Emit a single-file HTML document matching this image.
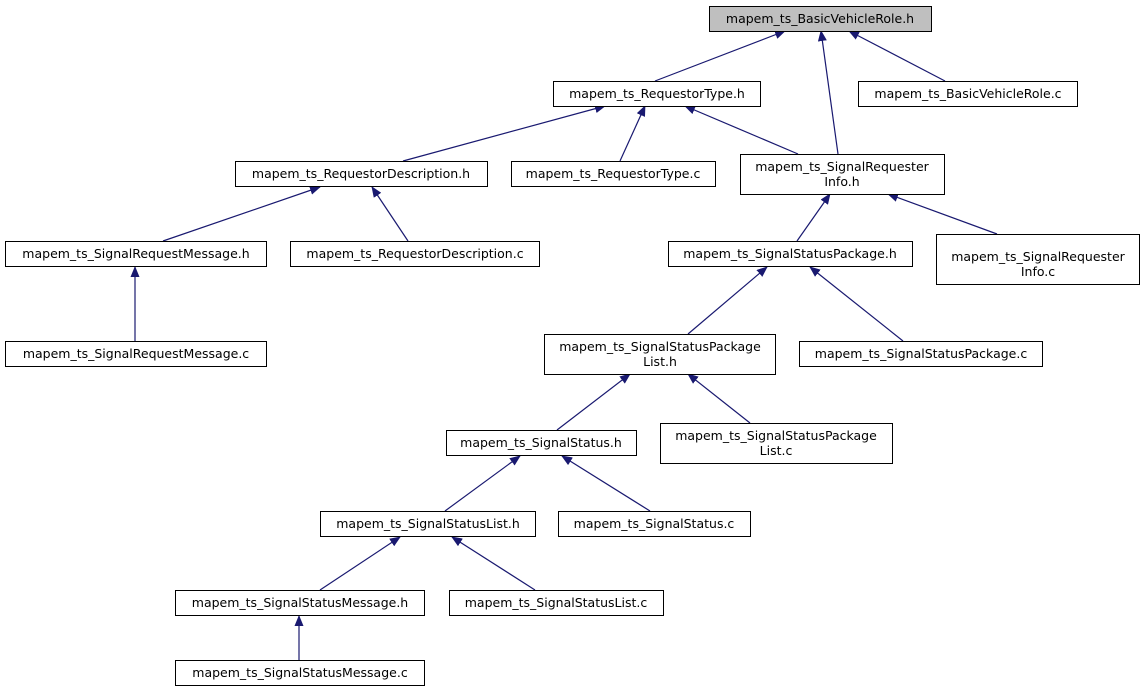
<!DOCTYPE html>
<html><head><meta charset="utf-8"><style>html,body{margin:0;padding:0;background:#fff}svg{display:block}</style></head>
<body>
<svg width="1146" height="693" viewBox="0 0 1146 693" xmlns="http://www.w3.org/2000/svg" font-family="'DejaVu Sans','Liberation Sans',sans-serif" font-size="12.5">
<defs><marker id="a" markerWidth="11" markerHeight="9" refX="10" refY="4.5" orient="auto" markerUnits="userSpaceOnUse"><path d="M0,0 L11,4.5 L0,9 Z" fill="#191970"/></marker></defs>
<g stroke="#191970" stroke-width="1.2" marker-end="url(#a)">
<line x1="655" y1="81" x2="785" y2="31"/>
<line x1="838" y1="154" x2="821" y2="31"/>
<line x1="945" y1="81" x2="849" y2="31"/>
<line x1="403" y1="161" x2="605" y2="106"/>
<line x1="620" y1="161" x2="645" y2="106"/>
<line x1="798" y1="154" x2="685" y2="106"/>
<line x1="163" y1="241" x2="320" y2="187"/>
<line x1="408" y1="241" x2="372" y2="187"/>
<line x1="135" y1="341" x2="135" y2="267"/>
<line x1="797" y1="241" x2="830" y2="194"/>
<line x1="997" y1="234" x2="888" y2="194"/>
<line x1="688" y1="334" x2="767" y2="267"/>
<line x1="903" y1="341" x2="810" y2="267"/>
<line x1="557" y1="430" x2="630" y2="374"/>
<line x1="750" y1="423" x2="688" y2="374"/>
<line x1="445" y1="511" x2="520" y2="456"/>
<line x1="650" y1="511" x2="562" y2="456"/>
<line x1="320" y1="590" x2="400" y2="537"/>
<line x1="535" y1="590" x2="452" y2="537"/>
<line x1="299" y1="660" x2="299" y2="616"/>
</g>
<g stroke="#000" stroke-width="1" fill="#fff">
<rect x="709.5" y="6.5" width="222" height="25" fill="#bfbfbf"/>
<rect x="553.5" y="81.5" width="207" height="25"/>
<rect x="858.5" y="81.5" width="219" height="25"/>
<rect x="235.5" y="161.5" width="252" height="25"/>
<rect x="511.5" y="161.5" width="204" height="25"/>
<rect x="740.5" y="154.5" width="204" height="40"/>
<rect x="5.5" y="241.5" width="261" height="25"/>
<rect x="290.5" y="241.5" width="249" height="25"/>
<rect x="668.5" y="241.5" width="244" height="25"/>
<rect x="936.5" y="234.5" width="203" height="50"/>
<rect x="5.5" y="341.5" width="261" height="25"/>
<rect x="544.5" y="334.5" width="231" height="40"/>
<rect x="799.5" y="341.5" width="243" height="25"/>
<rect x="446.5" y="430.5" width="190" height="25"/>
<rect x="660.5" y="423.5" width="232" height="40"/>
<rect x="320.5" y="511.5" width="215" height="25"/>
<rect x="558.5" y="511.5" width="192" height="25"/>
<rect x="175.5" y="590.5" width="249" height="25"/>
<rect x="449.5" y="590.5" width="214" height="25"/>
<rect x="175.5" y="660.5" width="249" height="25"/>
</g>
<g text-anchor="middle" fill="#000">
<text x="820" y="23">mapem_ts_BasicVehicleRole.h</text>
<text x="657" y="98">mapem_ts_RequestorType.h</text>
<text x="968" y="98">mapem_ts_BasicVehicleRole.c</text>
<text x="361" y="178">mapem_ts_RequestorDescription.h</text>
<text x="613" y="178">mapem_ts_RequestorType.c</text>
<text x="842" y="171">mapem_ts_SignalRequester</text>
<text x="842" y="186">Info.h</text>
<text x="136" y="258">mapem_ts_SignalRequestMessage.h</text>
<text x="415" y="258">mapem_ts_RequestorDescription.c</text>
<text x="790" y="258">mapem_ts_SignalStatusPackage.h</text>
<text x="1038" y="261">mapem_ts_SignalRequester</text>
<text x="1038" y="276">Info.c</text>
<text x="136" y="358">mapem_ts_SignalRequestMessage.c</text>
<text x="660" y="351">mapem_ts_SignalStatusPackage</text>
<text x="660" y="366">List.h</text>
<text x="921" y="358">mapem_ts_SignalStatusPackage.c</text>
<text x="541" y="447">mapem_ts_SignalStatus.h</text>
<text x="776" y="440">mapem_ts_SignalStatusPackage</text>
<text x="776" y="455">List.c</text>
<text x="428" y="528">mapem_ts_SignalStatusList.h</text>
<text x="654" y="528">mapem_ts_SignalStatus.c</text>
<text x="300" y="607">mapem_ts_SignalStatusMessage.h</text>
<text x="556" y="607">mapem_ts_SignalStatusList.c</text>
<text x="300" y="677">mapem_ts_SignalStatusMessage.c</text>
</g>
</svg>
</body></html>
